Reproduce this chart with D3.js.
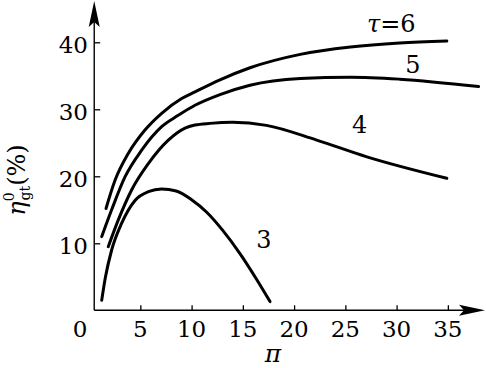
<!DOCTYPE html>
<html>
<head>
<meta charset="utf-8">
<script src="https://cdn.jsdelivr.net/npm/d3@7"></script>
<style>
  html, body { margin: 0; padding: 0; background: #fff; }
  text { font-family: 'DejaVu Serif'; }
</style>
</head>
<body>
<div id="chart"></div>
<script>
// values (pi, eta %)
const tau3 = [[1.23, 1.5], [1.6, 5.0], [2.2, 9.0], [3.18, 13.0], [4.48, 16.4], [5.78, 17.7],
  [7.08, 18.1], [8.5, 17.8], [10.0, 16.5], [11.5, 14.6], [13.0, 12.0], [14.7, 8.5], [16.35, 4.6], [17.65, 1.3]];
const tau4 = [[1.87, 9.5], [2.85, 13.5], [4.16, 18.0], [5.78, 21.9], [7.73, 25.4], [9.36, 27.2],
  [10.33, 27.65], [11.8, 27.9], [14.0, 28.05], [17.3, 27.6], [22.2, 25.4], [27.1, 22.9], [34.9, 19.7]];
const tau5 = [[1.23, 11.0], [2.2, 15.0], [3.5, 19.9], [5.13, 23.9], [7.08, 27.4], [8.7, 29.1],
  [10.33, 30.6], [12.77, 32.2], [15.7, 33.6], [20.6, 34.6], [25.5, 34.8], [30.3, 34.5], [38.0, 33.4]];
const tau6 = [[1.65, 15.2], [2.53, 19.4], [3.82, 23.4], [5.45, 26.9], [7.08, 29.4], [9.03, 31.6],
  [10.33, 32.6], [12.77, 34.4], [15.7, 36.2], [20.6, 38.2], [25.5, 39.3], [30.3, 39.9], [34.9, 40.2]];
const curveLabels = [
  { text: '6', pi: 27.1, eta: 41.5, tau: true },
  { text: '5', pi: 31.6, eta: 35.4 },
  { text: '4', pi: 26.4, eta: 26.5 },
  { text: '3', pi: 17.06, eta: 9.3 }
];
const xTicks = [5, 10, 15, 20, 25, 30, 35];
const yTicks = [10, 20, 30, 40];

const width = 486, height = 368;
const svg = d3.select('#chart').append('svg')
  .attr('width', width).attr('height', height);

// Scales
const x = d3.scaleLinear().domain([0, 40]).range([89.1, 499.1]);
const y = d3.scaleLinear().domain([0, 40]).range([310.3, 42.3]);
const x0 = x(0.5);   // where the vertical axis stands
const y0 = y(0);

// Axis lines with arrows
svg.append('line').attr('x1', x0).attr('y1', y0).attr('x2', x0).attr('y2', 14)
  .attr('stroke', '#000').attr('stroke-width', 1.4);
svg.append('path')
  .attr('d', `M${x0},1 L${x0 - 5.5},27 L${x0},22 L${x0 + 5.5},27 Z`)
  .attr('fill', '#000');
svg.append('line').attr('x1', x0).attr('y1', y0).attr('x2', 472).attr('y2', y0)
  .attr('stroke', '#000').attr('stroke-width', 1.4);
svg.append('path')
  .attr('d', `M485,${y0} L459,${y0 - 5.5} L464,${y0} L459,${y0 + 5.5} Z`)
  .attr('fill', '#000');

// Ticks
const xAxis = svg.append('g')
  .attr('transform', `translate(0,${y0})`)
  .call(d3.axisTop(x).tickValues(xTicks).tickSize(5).tickFormat(''));
const yAxis = svg.append('g')
  .attr('transform', `translate(${x0},0)`)
  .call(d3.axisRight(y).tickValues(yTicks).tickSize(6).tickFormat(''));
[xAxis, yAxis].forEach(g => {
  g.select('.domain').remove();
  g.selectAll('.tick line').attr('stroke', '#000').attr('stroke-width', 1.3);
});

// Tick labels
svg.selectAll('.xlab').data(xTicks).enter().append('text')
  .attr('x', d => x(d)).attr('y', 337)
  .attr('text-anchor', 'middle').attr('font-size', 23)
  .text(d => d);
svg.selectAll('.ylab').data(yTicks).enter().append('text')
  .attr('x', 88).attr('y', d => y(d) + 11)
  .attr('text-anchor', 'end').attr('font-size', 23)
  .text(d => d);
svg.append('text').attr('x', 80).attr('y', 337)
  .attr('text-anchor', 'middle').attr('font-size', 23).text('0');

// Axis titles
svg.append('text').attr('x', 273).attr('y', 362)
  .attr('text-anchor', 'middle').attr('font-size', 25).attr('font-style', 'italic')
  .text('π');

const yt = svg.append('text')
  .attr('transform', 'translate(25,180) rotate(-90)')
  .attr('text-anchor', 'middle').attr('font-size', 24);
yt.append('tspan').attr('font-style', 'italic').text('η');
yt.append('tspan').attr('font-size', 14).attr('dy', -11).text('0');
yt.append('tspan').attr('font-size', 14).attr('dx', -8).attr('dy', 16).text('gt');
yt.append('tspan').attr('dy', -5).text('(%)');

// Curves
const line = d3.line()
  .x(d => x(d[0]))
  .y(d => y(d[1]))
  .curve(d3.curveMonotoneX);

svg.selectAll('.curve').data([tau3, tau4, tau5, tau6]).enter().append('path')
  .attr('fill', 'none')
  .attr('stroke', '#000')
  .attr('stroke-width', 3)
  .attr('stroke-linecap', 'round')
  .attr('d', line);

// Curve labels
curveLabels.forEach(l => {
  const t = svg.append('text')
    .attr('x', x(l.pi)).attr('y', y(l.eta))
    .attr('text-anchor', l.tau ? 'start' : 'middle')
    .attr('font-size', 24);
  if (l.tau) {
    t.append('tspan').attr('font-style', 'italic').text('τ');
    t.append('tspan').text('=' + l.text);
  } else {
    t.text(l.text);
  }
});
</script>
</body>
</html>
